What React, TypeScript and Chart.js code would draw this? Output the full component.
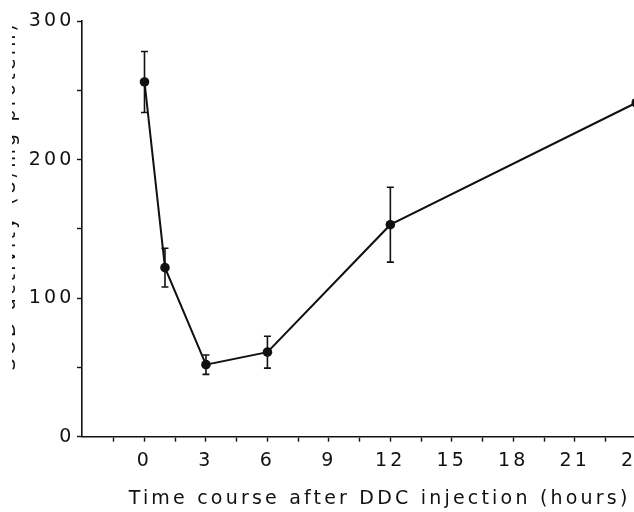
import React, { useEffect, useRef } from 'react';
import { Chart, registerables } from 'chart.js';

Chart.register(...registerables);

// ---- data ----
const hours = [0, 1, 3, 6, 12, 24];
const activity = [256, 122, 52, 61, 153, 241];
const sem = [22, 14, 7, 11.5, 27, 0];

const xTickValues = [-1.5, 0, 1.5, 3, 4.5, 6, 7.5, 9, 10.5, 12, 13.5, 15, 16.5, 18, 19.5, 21, 22.5, 24, 25.5];
const yTickValues = [0, 50, 100, 150, 200, 250, 300];

const xTitle = 'Time course after DDC injection (hours)';
const yTitle = 'SOD activity (U/mg protein)';

const INK = '#111111';
const FONT = 'DejaVu Sans';
const SPACING = '3.2px';

const spacingPlugin = {
  id: 'letterSpacing',
  beforeLayout(chart: any) {
    chart.ctx.letterSpacing = SPACING;
  },
  beforeDraw(chart: any) {
    chart.ctx.letterSpacing = SPACING;
  },
};

const errorBarPlugin = {
  id: 'errorBars',
  beforeDatasetsDraw(chart: any) {
    const { ctx, scales } = chart;
    const xs = scales.x;
    const ys = scales.y;
    ctx.save();
    ctx.strokeStyle = INK;
    ctx.lineWidth = 1.6;
    const cap = 3.5;
    hours.forEach((h, i) => {
      const e = sem[i];
      if (!e) return;
      const px = xs.getPixelForValue(h);
      const top = ys.getPixelForValue(activity[i] + e);
      const bot = ys.getPixelForValue(activity[i] - e);
      ctx.beginPath();
      ctx.moveTo(px, top);
      ctx.lineTo(px, bot);
      ctx.moveTo(px - cap, top);
      ctx.lineTo(px + cap, top);
      ctx.moveTo(px - cap, bot);
      ctx.lineTo(px + cap, bot);
      ctx.stroke();
    });
    ctx.restore();
  },
};

export default function App() {
  const ref = useRef<HTMLCanvasElement | null>(null);

  useEffect(() => {
    if (!ref.current) return;
    const chart = new Chart(ref.current, {
      type: 'line',
      data: {
        datasets: [
          {
            data: hours.map((h, i) => ({ x: h, y: activity[i] })),
            borderColor: INK,
            backgroundColor: INK,
            borderWidth: 2,
            pointRadius: 4.8,
            pointBackgroundColor: INK,
            pointBorderColor: INK,
            pointBorderWidth: 0,
            tension: 0,
            fill: false,
          },
        ],
      },
      options: {
        responsive: false,
        animation: false,
        events: [],
        layout: { padding: { left: 6.5, top: 21, right: 4.5, bottom: 0 } },
        plugins: {
          legend: { display: false },
          tooltip: { enabled: false },
        },
        scales: {
          x: {
            type: 'linear',
            min: -3.05,
            max: 26,
            afterBuildTicks: (scale: any) => {
              scale.ticks = xTickValues.map((v) => ({ value: v }));
            },
            afterFit: (scale: any) => {
              scale.height = 75.3;
            },
            grid: {
              drawOnChartArea: false,
              drawTicks: true,
              tickLength: 5,
              tickWidth: 1.4,
              tickColor: INK,
            },
            border: { display: true, color: INK, width: 1.6 },
            ticks: {
              autoSkip: false,
              maxRotation: 0,
              padding: 8,
              color: INK,
              font: { family: FONT, size: 19 },
              callback: (v: any) => (Number(v) >= 0 && Number(v) % 3 === 0 ? String(v) : ''),
            },
            title: {
              display: true,
              text: xTitle,
              color: INK,
              font: { family: FONT, size: 19 },
              padding: { top: 0, bottom: 2 },
            },
          },
          y: {
            type: 'linear',
            min: 0,
            max: 300,
            afterBuildTicks: (scale: any) => {
              scale.ticks = yTickValues.map((v) => ({ value: v }));
            },
            afterFit: (scale: any) => {
              scale.width = 83.5;
            },
            grid: {
              drawOnChartArea: false,
              drawTicks: true,
              tickLength: 5,
              tickWidth: 1.4,
              tickColor: INK,
            },
            border: { display: true, color: INK, width: 1.6 },
            ticks: {
              autoSkip: false,
              padding: 2.5,
              color: INK,
              font: { family: FONT, size: 19 },
              callback: (v: any) => (Number(v) % 100 === 0 ? String(v) : ''),
            },
            title: {
              display: true,
              text: yTitle,
              align: 'end',
              color: INK,
              font: { family: FONT, size: 19 },
              padding: { top: 0, bottom: 0 },
            },
          },
        },
      },
      plugins: [spacingPlugin, errorBarPlugin],
    } as any);
    return () => chart.destroy();
  }, []);

  return (
    <div
      style={{
        position: 'absolute',
        left: 12,
        top: 0,
        width: 622,
        height: 512,
        overflow: 'hidden',
        background: '#ffffff',
      }}
    >
      <canvas
        ref={ref}
        width={690}
        height={512}
        style={{ position: 'absolute', left: -20, top: 0, width: 690, height: 512 }}
      />
    </div>
  );
}
